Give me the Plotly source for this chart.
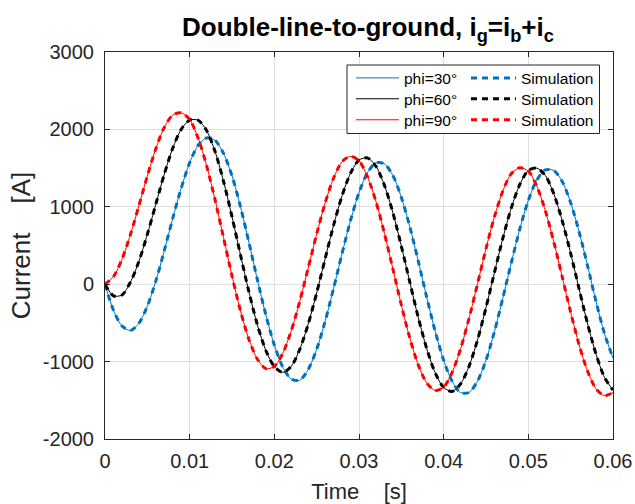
import plotly.graph_objects as go

# time samples [s]
t = [0.000, 0.001, 0.002, 0.003, 0.004, 0.005, 0.006, 0.007, 0.008, 0.009,
     0.010, 0.011, 0.012, 0.013, 0.014, 0.015, 0.016, 0.017, 0.018, 0.019,
     0.020, 0.021, 0.022, 0.023, 0.024, 0.025, 0.026, 0.027, 0.028, 0.029,
     0.030, 0.031, 0.032, 0.033, 0.034, 0.035, 0.036, 0.037, 0.038, 0.039,
     0.040, 0.041, 0.042, 0.043, 0.044, 0.045, 0.046, 0.047, 0.048, 0.049,
     0.050, 0.051, 0.052, 0.053, 0.054, 0.055, 0.056, 0.057, 0.058, 0.059,
     0.060]

# ground current [A]
i_phi30 = [0, -337, -539, -598, -506, -285, 40, 433, 850, 1240,
           1570, 1795, 1890, 1858, 1690, 1400, 1002, 540, 58, -398,
           -786, -1070, -1226, -1240, -1102, -842, -479, -52, 397, 823,
           1183, 1441, 1568, 1555, 1404, 1123, 742, 297, -169, -610,
           -983, -1255, -1400, -1398, -1252, -982, -610, -174, 283, 717,
           1083, 1345, 1476, 1470, 1328, 1053, 676, 236, -226, -640,
           -955]
i_phi60 = [0, -150, -140, 25, 293, 643, 1033, 1420, 1757, 2000,
           2120, 2118, 1985, 1714, 1330, 872, 380, -100, -525, -857,
           -1065, -1140, -1060, -842, -516, -112, 329, 762, 1143, 1434,
           1604, 1632, 1524, 1279, 925, 493, 27, -430, -833, -1144,
           -1334, -1385, -1288, -1060, -720, -302, 152, 597, 989, 1290,
           1469, 1500, 1406, 1170, 822, 398, -62, -513, -905, -1205,
           -1368]
i_phi90 = [0, 98, 321, 639, 1013, 1398, 1750, 2026, 2185, 2215,
           2127, 1887, 1532, 1090, 601, 108, -344, -714, -969, -1090,
           -1062, -891, -602, -222, 209, 647, 1050, 1372, 1583, 1652,
           1595, 1391, 1069, 657, 198, -268, -696, -1042, -1275, -1373,
           -1330, -1140, -835, -439, 6, 459, 873, 1207, 1430, 1505,
           1461, 1266, 952, 549, 96, -363, -784, -1124, -1352, -1440,
           -1400]

labels = ["phi=30°", "phi=60°", "phi=90°"]
sim_label = "Simulation"
x_ticks = [0, 0.01, 0.02, 0.03, 0.04, 0.05, 0.06]
x_ticktext = ["0", "0.01", "0.02", "0.03", "0.04", "0.05", "0.06"]
y_ticks = [-2000, -1000, 0, 1000, 2000, 3000]
y_ticktext = ["-2000", "-1000", "0", "1000", "2000", "3000"]

colors = ["#0072BD", "#000000", "#FF0000"]
series = [i_phi30, i_phi60, i_phi90]

FONT = "Liberation Sans, Arial, Helvetica, sans-serif"

# plot-area geometry (pixels) used for placing the legend cells
L, R, T, B = 105, 22, 52, 65
W, H = 635, 504
pw, ph = W - L - R, H - T - B

def px_x(px):
    return (px - L) / pw

def px_y(py):
    return (H - B - py) / ph

row_y = [78.3, 99.2, 120.2]

fig = go.Figure()
layout_legends = {}
for k, (lab, col, ys) in enumerate(zip(labels, colors, series)):
    lg_solid = "legend" if k == 0 else f"legend{2 * k + 1}"
    lg_sim = f"legend{2 * k + 2}"
    fig.add_trace(go.Scatter(
        x=t, y=ys, mode="lines", name=lab, legend=lg_solid,
        line=dict(color=col, width=1, shape="spline", smoothing=0.8),
    ))
    fig.add_trace(go.Scatter(
        x=t, y=ys, mode="lines", name=sim_label, legend=lg_sim,
        line=dict(color=col, width=3, dash="6px,5px", shape="spline", smoothing=0.8),
    ))
    common = dict(
        orientation="v", xanchor="left", yanchor="middle",
        bgcolor="rgba(0,0,0,0)", borderwidth=0,
        font=dict(family=FONT, size=15.5, color="#000000"),
        tracegroupgap=0,
    )
    layout_legends[lg_solid] = dict(x=px_x(351), y=px_y(row_y[k]), itemwidth=43, **common)
    layout_legends[lg_sim] = dict(x=px_x(466), y=px_y(row_y[k]), itemwidth=45, **common)

fig.update_layout(
    width=W, height=H,
    margin=dict(l=L, r=R, t=T, b=B, autoexpand=False),
    paper_bgcolor="white", plot_bgcolor="white",
    font=dict(family=FONT, size=20, color="#262626"),
    title=dict(
        text="<b>Double-line-to-ground, i<sub>g</sub>=i<sub>b</sub>+i<sub>c</sub></b>",
        x=px_x(368), xref="paper", xanchor="center",
        y=1 - 27 / H, yref="container", yanchor="middle",
        font=dict(family=FONT, size=26, color="#000000"),
    ),
    showlegend=True,
    shapes=[dict(
        type="rect", xref="paper", yref="paper",
        x0=px_x(347), x1=px_x(599.5), y0=px_y(133.5), y1=px_y(65),
        line=dict(color="#262626", width=1), fillcolor="white", layer="above",
    )],
    **layout_legends,
)

fig.update_xaxes(
    range=[0, 0.06], tickvals=x_ticks, ticktext=x_ticktext, automargin=False,
    showline=True, linecolor="#262626", linewidth=1, mirror="ticks",
    ticks="inside", ticklen=5, tickcolor="#262626",
    showgrid=True, gridcolor="#dfdfdf", gridwidth=1, zeroline=False,
    tickfont=dict(family=FONT, size=20, color="#262626"),
    ticklabelstandoff=4,
    title=dict(text="Time\u00a0\u00a0\u00a0\u00a0[s]", standoff=12,
               font=dict(family=FONT, size=22, color="#262626")),
)
fig.update_yaxes(
    range=[-2000, 3000], tickvals=y_ticks, ticktext=y_ticktext, automargin=False,
    showline=True, linecolor="#262626", linewidth=1, mirror="ticks",
    ticks="inside", ticklen=5, tickcolor="#262626",
    showgrid=True, gridcolor="#dfdfdf", gridwidth=1, zeroline=False,
    tickfont=dict(family=FONT, size=20, color="#262626"),
    ticklabelstandoff=6,
    title=dict(text="Current\u00a0\u00a0\u00a0\u00a0[A]", standoff=4,
               font=dict(family=FONT, size=26, color="#262626")),
)

fig.write_html("out.html")
